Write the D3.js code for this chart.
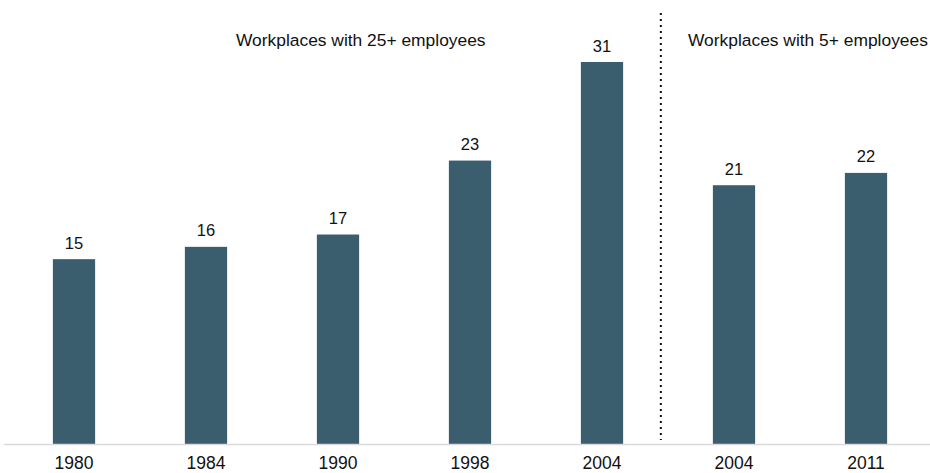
<!DOCTYPE html>
<html>
<head>
<meta charset="utf-8">
<script src="https://cdn.jsdelivr.net/npm/d3@7"></script>
<style>
  html, body { margin: 0; padding: 0; background: #fff; }
  svg { display: block; font-family: "Liberation Sans", Arial, sans-serif; }
</style>
</head>
<body>
<svg id="chart" width="930" height="473"></svg>
<script>
// Survey years (two groups share 2004, so keys carry a group suffix)
const categories = ["1980", "1984", "1990", "1998", "2004a", "2004b", "2011"];
const tickLabels = ["1980", "1984", "1990", "1998", "2004", "2004", "2011"];
const values = [15, 16, 17, 23, 31, 21, 22];
const groupLabels = ["Workplaces with 25+ employees", "Workplaces with 5+ employees"];

const width = 930, height = 473;
const baseline = 444;
const svg = d3.select("#chart");

const x = d3.scaleBand()
  .domain(categories)
  .range([8, 932])
  .paddingInner(0.68)
  .paddingOuter(0.34);

const y = d3.scaleLinear()
  .domain([0, 31])
  .range([baseline, 62]);

// Bars
svg.append("g")
  .selectAll("rect")
  .data(values)
  .join("rect")
  .attr("x", (d, i) => x(categories[i]))
  .attr("y", d => y(d))
  .attr("width", x.bandwidth())
  .attr("height", d => baseline - y(d))
  .attr("fill", "#3a5e6e");

// Value labels
svg.append("g")
  .selectAll("text")
  .data(values)
  .join("text")
  .attr("x", (d, i) => x(categories[i]) + x.bandwidth() / 2)
  .attr("y", d => y(d) - 10.5)
  .attr("text-anchor", "middle")
  .attr("font-size", 16.5)
  .attr("fill", "#111")
  .text(d => d);

// Baseline axis
const axis = svg.append("g")
  .attr("transform", `translate(0,${baseline})`)
  .call(d3.axisBottom(x).tickSize(0).tickFormat((d, i) => tickLabels[i]));
axis.select(".domain").attr("stroke", "#d9d9d9").attr("stroke-width", 1.5).attr("d", "M4,0.5H930");
axis.selectAll("text")
  .attr("y", 24.5).attr("dy", 0)
  .attr("font-size", 17.5).attr("fill", "#111")
  .attr("font-family", "'Liberation Sans', Arial, sans-serif");

// Divider between survey groups
const gapStart = x("2004a") + x.bandwidth();
const divX = gapStart + (x("2004b") - gapStart) * 0.42;
svg.append("line")
  .attr("x1", divX).attr("x2", divX)
  .attr("y1", 13).attr("y2", 440)
  .attr("stroke", "#111")
  .attr("stroke-width", 2)
  .attr("stroke-dasharray", "2,4");

// Group headings
svg.append("text")
  .attr("x", 236).attr("y", 46)
  .attr("font-size", 17.4).attr("fill", "#111")
  .text(groupLabels[0]);
svg.append("text")
  .attr("x", 688).attr("y", 46)
  .attr("font-size", 17.4).attr("fill", "#111")
  .text(groupLabels[1]);
</script>
</body>
</html>
